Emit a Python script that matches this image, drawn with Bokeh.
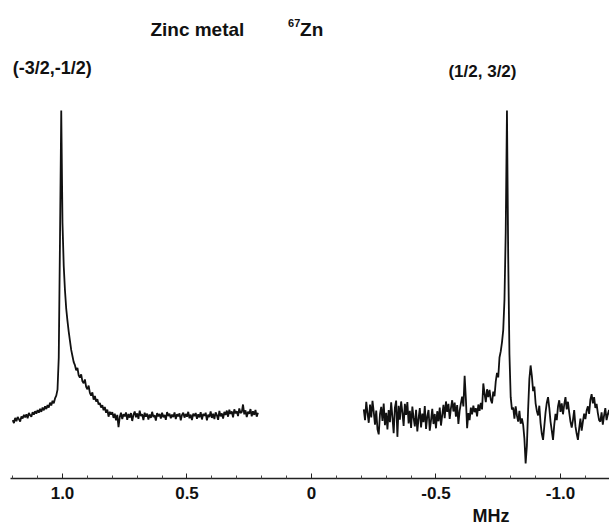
from bokeh.plotting import figure
from bokeh.models import Range1d, FixedTicker, Label, Title
from bokeh.embed import file_html
from bokeh.resources import INLINE
import numpy as np

# ---- data (frequency in MHz, intensity in arbitrary units; peak = 100) ----
left_start, left_step = 1.200, -0.005
left_intensity = [
    -1.5, -2.5, -0.8, -1.9, -0.5, -1.2, -2.0, -0.3, -1.0, 0.2,
    -0.6, 0.4, -0.9, 0.8, 0.1, -0.4, 1.1, 0.3, 1.4, 0.6,
    1.8, 0.9, 2.2, 1.2, 2.6, 1.7, 3.0, 2.1, 3.4, 2.6,
    4.2, 3.3, 4.8, 4.0, 5.6, 6.5, 8.5, 19.0, 58.0, 100.0,
    63.0, 49.0, 41.0, 35.0, 31.0, 27.5, 24.5, 21.5, 19.5, 17.5,
    16.5, 14.8, 15.6, 13.2, 12.4, 13.5, 11.2, 10.6, 11.8, 9.4,
    8.6, 9.8, 7.4, 6.5, 7.6, 5.2, 6.4, 4.6, 5.3, 3.6,
    4.1, 2.6, 3.4, 1.7, 2.8, 0.9, 1.9, -0.4, 1.2, 0.3,
    1.1, -0.8, 0.6, -1.6, 0.2, -3.8, -0.5, 0.9, -1.2, 0.4,
    -0.3, 1.0, -1.4, 0.5, -0.7, 0.8, -1.8, 0.2, 1.3, -0.6,
    0.7, -1.1, 1.6, -0.2, 0.4, -1.5, 0.9, -0.4, 0.6, -1.3,
    0.3, -0.8, 1.2, -0.5, 0.1, -1.7, 0.8, -0.3, 0.5, -1.0,
    0.9, -0.6, 0.2, -1.4, 1.1, -0.2, 0.6, -0.9, 0.3, -0.5,
    1.0, -1.2, 0.4, -0.3, 0.7, -1.6, 0.2, 0.9, -0.7, 0.5,
    -0.4, 1.2, -0.9, 0.3, -1.5, 0.6, -0.2, 0.8, -1.1, 0.4,
    -0.6, 1.1, -1.3, 0.5, -0.1, 0.9, -1.6, 0.3, -0.5, 1.3,
    -0.8, 0.6, -1.2, 1.0, 0.1, -1.4, 1.5, -0.3, 0.7, -1.0,
    1.2, 0.2, 1.6, -0.4, 1.9, 0.5, 1.3, -0.6, 2.0, 0.7,
    1.4, -0.2, 2.3, 0.8, 1.1, 3.6, 0.4, 1.7, -0.5, 1.2,
    0.6, 2.1, -0.3, 1.4, 0.2, 1.8, -0.4, 0.9,
]

right_start, right_step = -0.210, -0.005
right_intensity = [
    2.0, -1.5, 4.5, 0.8, -2.4, 3.6, -0.6, 4.8, 1.2, -3.0,
    1.6, -4.5, -6.2, 0.4, 2.8, -1.8, 3.9, -3.2, 0.9, -4.6,
    1.8, -2.2, 4.3, -0.5, -5.8, 2.6, 4.9, -7.0, 3.2, -1.4,
    4.6, 1.0, -3.4, 3.8, 0.2, 4.4, -2.6, 1.5, -4.1, 2.9,
    -0.8, -3.6, 1.9, -5.2, -1.0, 2.4, -3.9, 0.6, -2.2, 3.1,
    -4.4, -0.3, 1.8, -5.0, -1.6, 2.2, -2.8, 0.5, -4.2, 1.4,
    -1.9, 2.6, -3.3, 0.1, 3.5, -0.9, 4.6, 1.2, 3.8, -1.1,
    2.4, 5.0, 1.3, 4.2, -0.4, 3.4, -2.8, 1.6, 4.0, 6.2,
    3.0, 13.0, 5.5, -4.2, 0.8, -1.5, 2.6, 0.4, 3.2, 1.1,
    2.4, -0.3, 3.6, 1.5, 4.1, 2.0, 10.5, 7.2, 4.4, 8.6,
    6.0, 8.4, 5.2, 4.0, 7.8, 6.3, 11.2, 14.0, 12.5, 19.0,
    21.0, 24.0, 28.0, 38.0, 60.0, 100.0, 52.0, 20.0, 6.0, 2.0,
    2.6, -1.0, 3.0, 0.0, -2.0, 1.5, -2.7, -1.0, -3.0, -7.5,
    -15.7, -10.0, 2.0, 12.0, 16.4, 13.0, 8.0, 9.5, 4.0, 1.5,
    0.0, 3.2, -2.5, -6.0, -8.0, -3.5, 1.0, 4.2, 6.0, 2.5,
    -2.0, -5.0, -8.0, -3.0, 0.5, -1.5, 3.0, 5.0, 1.2, 4.0,
    0.4, 3.6, 6.0, 2.0, 4.5, 1.0, -2.0, -4.0, -1.5, 1.8,
    -3.5, -6.0, -8.0, -4.2, -1.0, -5.0, -2.0, 0.6, -1.2, 1.6,
    3.0, 0.5, 5.2, 7.0, 4.0, 6.0, 2.5, 3.8, 0.8, -1.5,
    -2.0, 1.0, -3.0, 0.0, 2.4, -1.5, 0.4, 1.8, -0.8,
]

major_ticks = [1.0, 0.5, 0.0, -0.5, -1.0]
major_labels = ["1.0", "0.5", "0", "-0.5", "-1.0"]
minor_ticks = [1.2, 1.1, 0.9, 0.8, 0.7, 0.6, 0.4, 0.3, 0.2, 0.1,
               -0.1, -0.2, -0.3, -0.4, -0.6, -0.7, -0.8, -0.9, -1.1]

title_text = "Zinc metal"
isotope_mass = "67"
isotope_symbol = "Zn"
left_label = "(-3/2,-1/2)"
right_label = "(1/2, 3/2)"
unit_label = "MHz"

left_x = np.round(left_start + left_step * np.arange(len(left_intensity)), 4)
right_x = np.round(right_start + right_step * np.arange(len(right_intensity)), 4)

FONT = "Liberation Sans"
INK = "#111111"

p = figure(width=609, height=532, output_backend="svg", toolbar_location=None,
           x_range=Range1d(1.2088, -1.1968), y_range=Range1d(-20.66, 136.07),
           y_axis_location=None, min_border_left=10, min_border_right=0,
           min_border_top=0, min_border_bottom=54)
p.outline_line_color = None
p.grid.visible = False
p.background_fill_color = "white"
p.border_fill_color = "white"

p.line(left_x, left_intensity, line_color=INK, line_width=1.8)
p.line(right_x, right_intensity, line_color=INK, line_width=1.8)

ax = p.xaxis[0]
ax.ticker = FixedTicker(ticks=major_ticks, minor_ticks=minor_ticks)
ax.major_label_overrides = {t: l for t, l in zip(major_ticks, major_labels)}
ax.major_label_text_font = FONT
ax.major_label_text_font_style = "bold"
ax.major_label_text_font_size = "17px"
ax.major_label_text_color = INK
ax.major_label_standoff = 8
ax.axis_line_width = 1.5
ax.axis_line_color = "#222222"
ax.major_tick_in = 5
ax.major_tick_out = 0
ax.minor_tick_in = 3
ax.minor_tick_out = 0
ax.major_tick_line_color = "#222222"
ax.minor_tick_line_color = "#444444"

unit_title = Title(text=unit_label, align="left", offset=462, standoff=4,
                   text_font=FONT, text_font_style="bold", text_font_size="18px",
                   text_color=INK)
p.add_layout(unit_title, "below")

def add_label(x, y, text, size):
    p.add_layout(Label(x=x, y=y, text=text, text_font=FONT, text_font_style="bold",
                       text_font_size=size, text_color=INK,
                       text_baseline="middle", text_align="left"))

add_label(0.647, 126.6, title_text, "19px")
add_label(0.094, 128.8, isotope_mass, "11px")
add_label(0.046, 126.6, isotope_symbol, "19px")
add_label(1.200, 114.1, left_label, "18px")
add_label(-0.550, 112.8, right_label, "17px")

open("out.html", "w").write(file_html(p, INLINE))
